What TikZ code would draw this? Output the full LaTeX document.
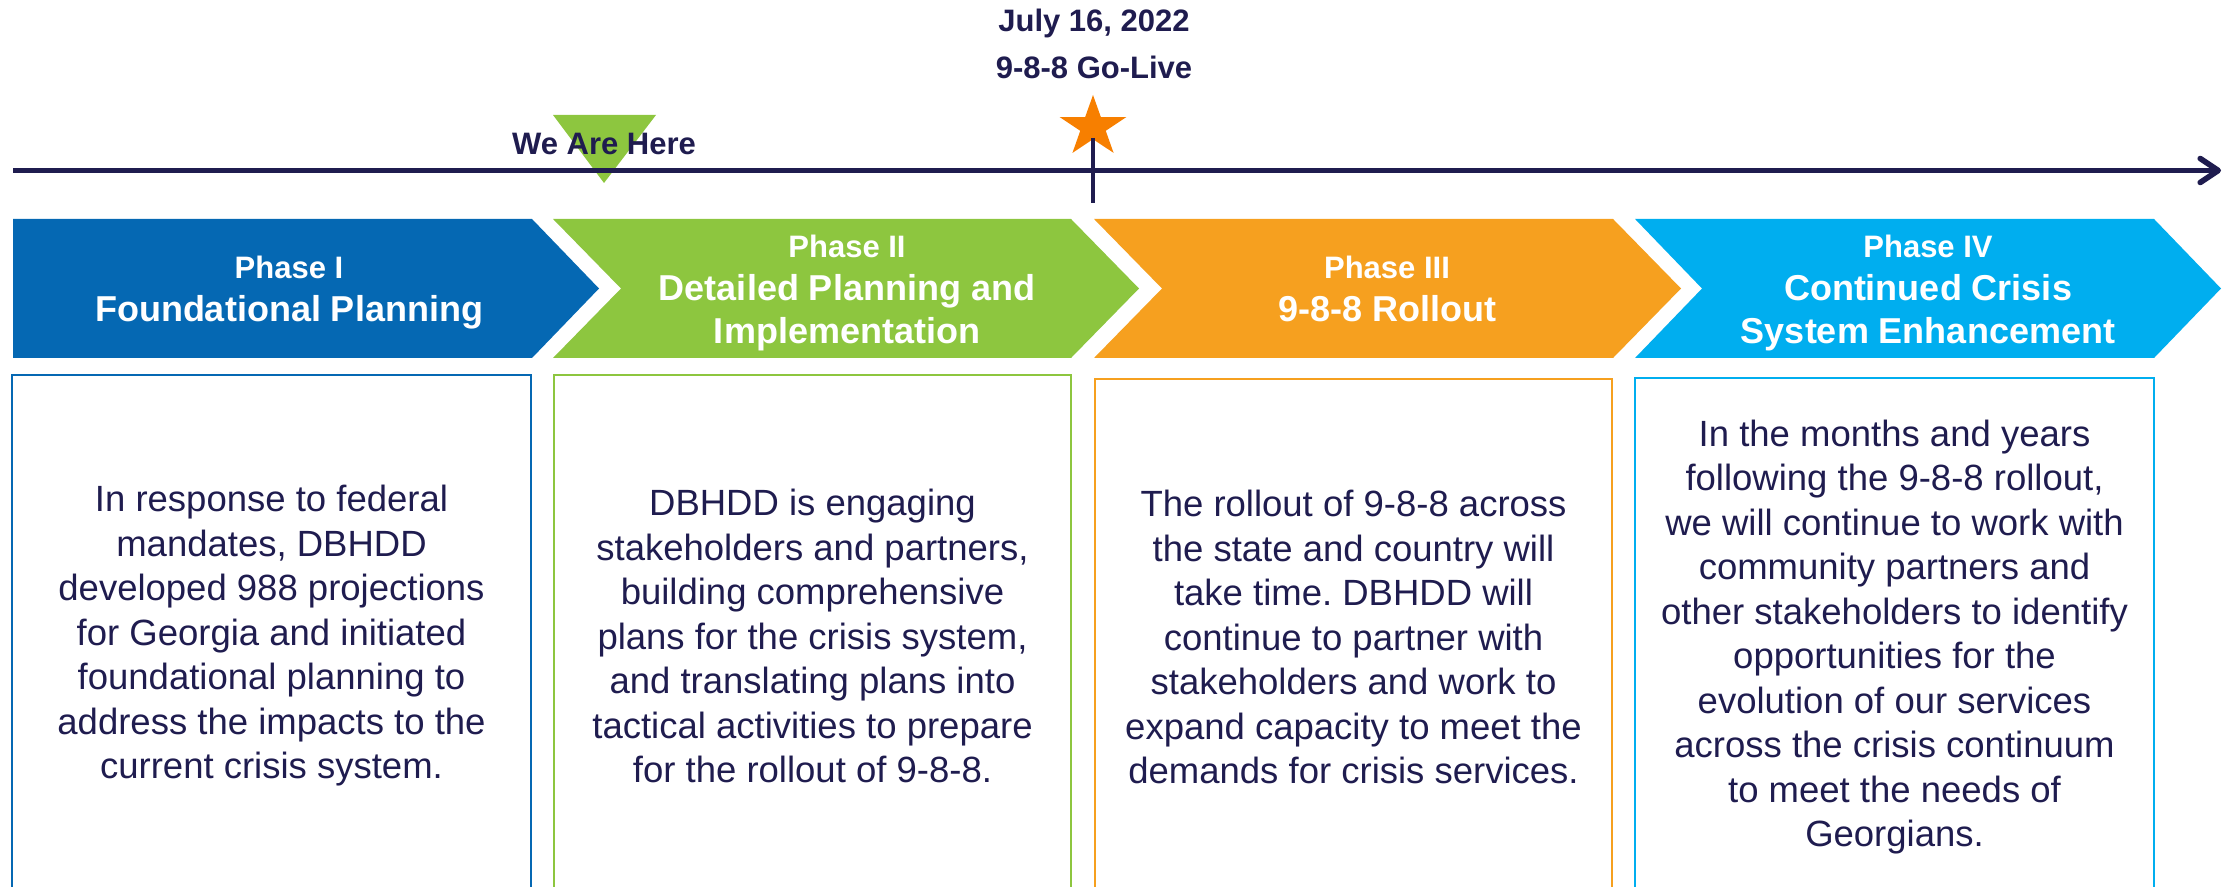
\documentclass[tikz,border=0pt]{standalone}
\usepackage{fontspec}
\setmainfont{Liberation Sans}
\usetikzlibrary{arrows.meta}
\definecolor{navy}{HTML}{1F1C4F}
\definecolor{phaseblue}{HTML}{0568B3}
\definecolor{phasegreen}{HTML}{8DC63F}
\definecolor{phaseorange}{HTML}{F6A01F}
\definecolor{phasecyan}{HTML}{00AEEF}
\definecolor{starorange}{HTML}{F77F00}
\newcommand\phasefont{\bfseries\fontsize{15.5}{21.5}\selectfont}
\frenchspacing

\begin{document}
\begin{tikzpicture}[x=0.5pt,y=-0.5pt,
  head/.style={text=white, font=\bfseries\fontsize{18}{21.5}\selectfont,
    align=center, inner sep=0pt},
  infobox/.style={draw=#1, line width=1pt, rectangle, inner sep=0pt,
    text=navy, font=\fontsize{18.25}{22.25}\selectfont, align=center},
  milestone/.style={text=navy, font=\bfseries\fontsize{15.5}{23.5}\selectfont,
    align=center, inner sep=0pt}
]
\path[use as bounding box] (0,0) rectangle (2236,887);
\clip (0,0) rectangle (2236,887);

% "we are here" marker
\fill[phasegreen] (553,115) -- (656,115) -- (604,183) -- cycle;

% timeline
\coordinate (tlstart) at (13,170.5);
\coordinate (tlend) at (2221,170.5);
\draw[navy, line width=2.8pt, -{Straight Barb[length=9pt, width=12pt, round]}]
  (tlstart) -- (tlend);

% go-live milestone: star and tick
\fill[starorange, shift={(1093,127)}]
  (-90:35 and 32) -- (-54:13.4 and 12.2) -- (-18:35 and 32) -- (18:13.4 and 12.2)
  -- (54:35 and 32) -- (90:13.4 and 12.2) -- (126:35 and 32) -- (162:13.4 and 12.2)
  -- (198:35 and 32) -- (234:13.4 and 12.2) -- cycle;
\coordinate (ticktop) at (1093,138);
\coordinate (tickbot) at (1093,203);
\draw[navy, line width=2pt] (ticktop) -- (tickbot);

% the base anchor of a multi-line node sits on its last line
\node[milestone, anchor=base] (golive) at (1094,79) {July 16, 2022\\9-8-8 Go-Live};
\node[milestone, anchor=base] (wearehere) at (604,155) {We Are Here};

% phase chevrons
\fill[phaseblue] (13,219) -- (532,219) -- (599,288.5) -- (532,358) -- (13,358) -- cycle;
\fill[phasegreen] (553,219) -- (1071,219) -- (1139,288.5) -- (1071,358) -- (553,358) -- (621,288.5) -- cycle;
\fill[phaseorange] (1094,219) -- (1613,219) -- (1681,288.5) -- (1613,358) -- (1094,358) -- (1162,288.5) -- cycle;
\fill[phasecyan] (1635,219) -- (2154,219) -- (2221,288.5) -- (2154,358) -- (1635,358) -- (1702,288.5) -- cycle;

\node[head] (h1) at (289,293) {{\phasefont Phase I}\\Foundational Planning};
\node[head] (h2) at (847,293) {{\phasefont Phase II}\\Detailed Planning and\\Implementation};
\node[head] (h3) at (1387,289) {{\phasefont Phase III}\\9-8-8 Rollout};
\node[head] (h4) at (1928,293) {{\phasefont Phase IV}\\Continued Crisis\\System Enhancement};

% description boxes
\node[infobox=phaseblue, minimum width=259.5pt, minimum height=261pt] (b1) at (271.5,636)
  {In response to federal\\mandates, DBHDD\\developed 988 projections\\for Georgia and initiated\\foundational planning to\\address the impacts to the\\current crisis system.};
\node[infobox=phasegreen, minimum width=258.5pt, minimum height=261pt] (b2) at (812.5,636)
  {DBHDD is engaging\\stakeholders and partners,\\building comprehensive\\plans for the crisis system,\\and translating plans into\\tactical activities to prepare\\for the rollout of 9-8-8.};
\node[infobox=phaseorange, minimum width=258.5pt, minimum height=258pt] (b3) at (1353.5,637)
  {The rollout of 9-8-8 across\\the state and country will\\take time. DBHDD will\\continue to partner with\\stakeholders and work to\\expand capacity to meet the\\demands for crisis services.};
\node[infobox=phasecyan, minimum width=259.5pt, minimum height=259pt] (b4) at (1894.5,637)
  {In the months and years\\following the 9-8-8 rollout,\\we will continue to work with\\community partners and\\other stakeholders to identify\\opportunities for the\\evolution of our services\\across the crisis continuum\\to meet the needs of\\Georgians.};
\end{tikzpicture}
\end{document}
